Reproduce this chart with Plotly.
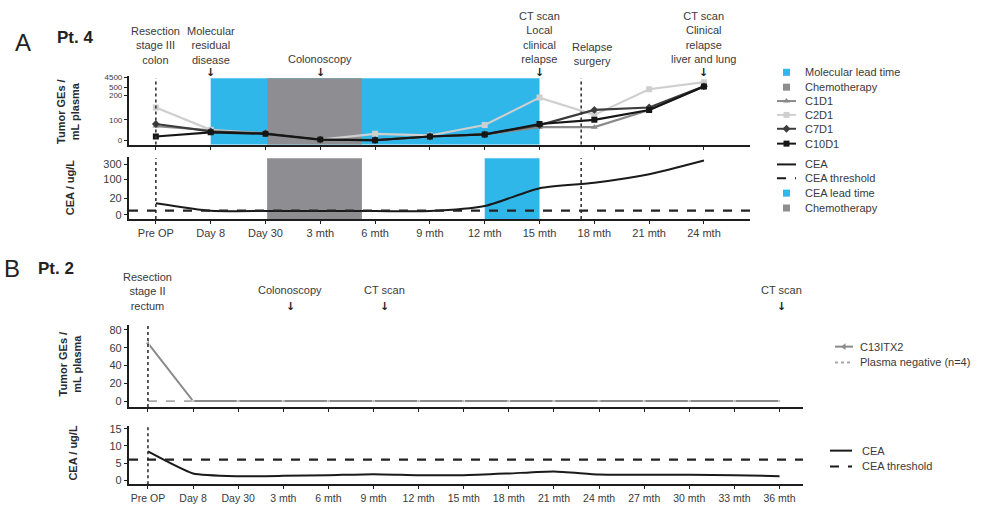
import numpy as np
import plotly.graph_objects as go

W, H = 1000, 517
FONT = "Liberation Sans, Arial, sans-serif"
TXT = "#3a3a3a"
BLUE = "#2fb7ea"
GREY = "#8e8e92"

# ---------------- Pt. 4 ----------------
visits_a = ["Pre OP", "Day 8", "Day 30", "3 mth", "6 mth", "9 mth",
            "12 mth", "15 mth", "18 mth", "21 mth", "24 mth"]
c1d1 = [70, 50, 35, 5, 3, 20, 30, 65, 65, 140, 780]
c2d1 = [150, 52, 35, 5, 33, 25, 75, 190, 120, 410, 2500]
c7d1 = [80, 45, 35, 5, 3, 20, 30, 75, 140, 150, 850]
c10d1 = [20, 40, 33, 5, 2, 20, 30, 80, 100, 140, 800]
cea_a = [14, 5, 4.6, 4.6, 4.6, 4.6, 10.5, 62, 85, 167, 430]
cea_threshold_a = 5

# shaded periods (visit index units)
mol_lead = (1, 7)
chemo_a = (2.03, 3.76)
cea_lead = (6, 7)
relapse_surgery = 7.76

# ---------------- Pt. 2 ----------------
visits_b = ["Pre OP", "Day 8", "Day 30", "3 mth", "6 mth", "9 mth", "12 mth",
            "15 mth", "18 mth", "21 mth", "24 mth", "27 mth", "30 mth",
            "33 mth", "36 mth"]
c13itx2 = [65, 0, 0, 0, 0, 0, 0, 0, 0, 0, 0, 0, 0, 0, 0]
plasma_negative = [0] * 15
cea_b = [8.4, 2.0, 1.2, 1.3, 1.5, 1.8, 1.5, 1.5, 2.0, 2.6, 1.7, 1.6, 1.6, 1.5, 1.2]
cea_threshold_b = 6

# broken (piecewise) value axes
ge_breaks = [0, 100, 200, 300, 500, 4500]
ge_pos = [0, 1, 2.19, 2.35, 2.57, 3.05]
ge_ticks = [0, 100, 200, 500, 4500]
cea_breaks = [0, 20, 100, 300, 600]
cea_pos = [0, 17, 36, 51, 60]
cea_ticks = [0, 20, 100, 300]


def ge_scale(v):
    return list(np.interp(v, ge_breaks, ge_pos))


def cea_scale(v):
    return list(np.interp(v, cea_breaks, cea_pos))


def dx(a, b):
    return [a / W, b / W]


def dy(top, bottom):
    return [1 - bottom / H, 1 - top / H]


fig = go.Figure()

xa = list(range(len(visits_a)))
xb = list(range(len(visits_b)))

series_a = [
    ("C1D1", c1d1, "#8a8a8a", "triangle-up"),
    ("C2D1", c2d1, "#cfcfcf", "square"),
    ("C7D1", c7d1, "#3c3c3c", "diamond"),
    ("C10D1", c10d1, "#161616", "square"),
]
for name, vals, col, sym in series_a:
    fig.add_trace(go.Scatter(
        x=xa, y=ge_scale(vals), mode="lines+markers", name=name,
        line=dict(color=col, width=2.2),
        marker=dict(color=col, size=6, symbol=sym),
        xaxis="x", yaxis="y", showlegend=False))

fig.add_trace(go.Scatter(
    x=xa, y=cea_scale(cea_a), mode="lines", name="CEA",
    line=dict(color="#1a1a1a", width=2, shape="spline", smoothing=0.6),
    xaxis="x2", yaxis="y2", showlegend=False))

fig.add_trace(go.Scatter(
    x=xb, y=plasma_negative, mode="lines", name="Plasma negative (n=4)",
    line=dict(color="#a8a8a8", width=1.8, dash="dash"),
    xaxis="x3", yaxis="y3", showlegend=False))
fig.add_trace(go.Scatter(
    x=xb, y=c13itx2, mode="lines+markers", name="C13ITX2",
    line=dict(color="#8a8a8a", width=2),
    marker=dict(color="#8a8a8a", size=[6] + [3] * 14, symbol="triangle-left"),
    xaxis="x3", yaxis="y3", showlegend=False))

fig.add_trace(go.Scatter(
    x=xb, y=cea_b, mode="lines", name="CEA",
    line=dict(color="#1a1a1a", width=2, shape="spline", smoothing=0.5),
    xaxis="x4", yaxis="y4", showlegend=False))

shapes = []


def rect(xref, yref, x0, x1, color):
    shapes.append(dict(type="rect", xref=xref, yref=yref + " domain",
                       x0=x0, x1=x1, y0=0, y1=0.97, fillcolor=color,
                       line=dict(width=0), layer="below"))


rect("x", "y", mol_lead[0], mol_lead[1], BLUE)
rect("x", "y", chemo_a[0], chemo_a[1], GREY)
rect("x2", "y2", chemo_a[0], chemo_a[1], GREY)
rect("x2", "y2", cea_lead[0], cea_lead[1], BLUE)


def vdot(xref, yref, x, y1=0.97):
    shapes.append(dict(type="line", xref=xref, yref=yref + " domain",
                       x0=x, x1=x, y0=0, y1=y1,
                       line=dict(color="#333", width=1.6, dash="dot")))


vdot("x", "y", 0)
vdot("x2", "y2", 0)
vdot("x", "y", relapse_surgery)
vdot("x2", "y2", relapse_surgery)
vdot("x3", "y3", 0, 1)
vdot("x4", "y4", 0, 0.98)


def hdash(xref, yref, yv):
    shapes.append(dict(type="line", xref=xref + " domain", yref=yref,
                       x0=0, x1=1, y0=yv, y1=yv,
                       line=dict(color="#222", width=2.2, dash="dash")))


hdash("x2", "y2", cea_scale([cea_threshold_a])[0])
hdash("x4", "y4", cea_threshold_b)

# ---- hand-drawn legends (pixel overlay axis) ----
LX0, LX1, LT = 777, 796, 803


def leg_text(text, x, y):
    return dict(text=text, x=x, y=y, xref="x5", yref="y5", xanchor="left",
                yanchor="middle", showarrow=False,
                font=dict(family=FONT, size=11, color=TXT))


annotations = []


def leg_square(y, color, label):
    fig.add_trace(go.Scatter(x=[(LX0 + LX1) / 2], y=[y], mode="markers",
                             marker=dict(symbol="square", size=7, color=color),
                             xaxis="x5", yaxis="y5", showlegend=False,
                             hoverinfo="skip"))
    annotations.append(leg_text(label, LT, y))


def leg_line(y, color, label, dash="solid", sym=None, x0=LX0, x1=LX1, xt=LT, width=2):
    fig.add_trace(go.Scatter(x=[x0, x1], y=[y, y], mode="lines",
                             line=dict(color=color, width=width, dash=dash),
                             xaxis="x5", yaxis="y5", showlegend=False,
                             hoverinfo="skip"))
    if sym:
        fig.add_trace(go.Scatter(x=[(x0 + x1) / 2], y=[y], mode="markers",
                                 marker=dict(symbol=sym, size=6, color=color),
                                 xaxis="x5", yaxis="y5", showlegend=False,
                                 hoverinfo="skip"))
    annotations.append(leg_text(label, xt, y))


leg_square(70, BLUE, "Molecular lead time")
leg_square(85, GREY, "Chemotherapy")
for (name, vals, col, sym), yrow in zip(series_a, [99, 113, 127, 142]):
    leg_line(yrow, col, name, sym=sym)
leg_line(163, "#1a1a1a", "CEA")
leg_line(177, "#1a1a1a", "CEA threshold", dash="dash")
leg_square(192, BLUE, "CEA lead time")
leg_square(207, GREY, "Chemotherapy")

leg_line(347, "#8a8a8a", "C13ITX2", sym="triangle-left", x0=835, x1=853, xt=858)
leg_line(363, "#a8a8a8", "Plasma negative (n=4)", dash="dot", x0=835, x1=853, xt=858)
leg_line(452, "#1a1a1a", "CEA", x0=830, x1=852, xt=860)
leg_line(468, "#1a1a1a", "CEA threshold", dash="dash", x0=830, x1=852, xt=860)


# ---- text ----
def ptext(text, x, y, size=11, color=TXT, bold=False, angle=0, xanchor="center"):
    t = f"<b>{text}</b>" if bold else text
    annotations.append(dict(text=t, x=x / W, y=1 - y / H, xref="paper",
                            yref="paper", showarrow=False, textangle=angle,
                            xanchor=xanchor, yanchor="middle",
                            font=dict(family=FONT, size=size, color=color)))


def event(text, xv, xref, y_center):
    annotations.append(dict(text=text, x=xv, y=1 - y_center / H, xref=xref,
                            yref="paper", showarrow=False, xanchor="center",
                            yanchor="middle",
                            font=dict(family=FONT, size=11, color=TXT)))


def arrow(xv, xref, y):
    annotations.append(dict(text="<b>↓</b>", x=xv, y=1 - y / H, xref=xref,
                            yref="paper", showarrow=False, xanchor="center",
                            yanchor="middle",
                            font=dict(family="DejaVu Sans", size=11, color="#222")))


ptext("A", 23, 40, size=24, color="#222")
ptext("Pt. 4", 75, 35, size=17, color="#222", bold=True)
ptext("B", 12, 268, size=24, color="#222")
ptext("Pt. 2", 56, 268, size=17, color="#222", bold=True)

event("Resection<br>stage III<br>colon", 0, "x", 43)
event("Molecular<br>residual<br>disease", 1, "x", 43)
arrow(1, "x", 70)
event("Colonoscopy", 3, "x", 57)
arrow(3, "x", 70)
event("CT scan<br>Local<br>clinical<br>relapse", 7, "x", 35)
arrow(7, "x", 70)
event("Relapse<br>surgery", 7.95, "x", 51)
event("CT scan<br>Clinical<br>relapse<br>liver and lung", 10, "x", 35)
arrow(10, "x", 70)

event("Resection<br>stage II<br>rectum", 0, "x3", 291)
event("Colonoscopy", 3.15, "x3", 290)
arrow(3.15, "x3", 306)
event("CT scan", 5.25, "x3", 290)
arrow(5.25, "x3", 306)
event("CT scan", 14.05, "x3", 290)
arrow(14.05, "x3", 306)

ptext("Tumor GEs /<br>mL plasma", 68, 110, size=11, color="#2a2a2a", bold=True, angle=-90)
ptext("CEA / ug/L", 70, 187, size=11, color="#2a2a2a", bold=True, angle=-90)
ptext("Tumor GEs /<br>mL plasma", 70, 365, size=11, color="#2a2a2a", bold=True, angle=-90)
ptext("CEA / ug/L", 73, 455, size=11, color="#2a2a2a", bold=True, angle=-90)

tickfont = dict(family=FONT, size=11, color=TXT)
axcommon = dict(showline=True, linecolor="#1e1e1e", linewidth=2.2,
                showgrid=False, zeroline=False, ticks="outside", ticklen=3,
                tickcolor="#1e1e1e", tickwidth=1.2, tickfont=tickfont,
                fixedrange=True)

fig.update_layout(
    width=W, height=H, margin=dict(l=0, r=0, t=0, b=0),
    paper_bgcolor="white", plot_bgcolor="rgba(0,0,0,0)",
    showlegend=False, shapes=shapes, annotations=annotations,
    xaxis=dict(domain=dx(129, 750), range=[-0.49, 10.84], anchor="y",
               tickvals=xa, showticklabels=False, **axcommon),
    yaxis=dict(domain=dy(74, 143), range=[-0.19, 3.095], anchor="x",
               tickvals=ge_scale(ge_ticks), ticktext=[str(t) for t in ge_ticks],
               **{**axcommon, "tickfont": dict(family=FONT, size=8, color=TXT)}),
    xaxis2=dict(domain=dx(129, 750), range=[-0.49, 10.84], anchor="y2",
                tickvals=xa, ticktext=visits_a, tickangle=0, **axcommon),
    yaxis2=dict(domain=dy(155, 218), range=[-4, 59], anchor="x2",
                tickvals=cea_scale(cea_ticks), ticktext=[str(t) for t in cea_ticks],
                **axcommon),
    xaxis3=dict(domain=dx(129, 803), range=[-0.42, 14.52], anchor="y3",
                tickvals=xb, showticklabels=False, **axcommon),
    yaxis3=dict(domain=dy(325, 408), range=[-6.67, 85.6], anchor="x3",
                tickvals=[0, 20, 40, 60, 80], **axcommon),
    xaxis4=dict(domain=dx(129, 803), range=[-0.42, 14.52], anchor="y4",
                tickvals=xb, ticktext=visits_b, tickangle=0,
                **{**axcommon, "tickfont": dict(family=FONT, size=10.5, color=TXT)}),
    yaxis4=dict(domain=dy(427, 486), range=[-1.153, 15.85], anchor="x4",
                tickvals=[0, 5, 10, 15], **axcommon),
    xaxis5=dict(domain=[0, 1], range=[0, W], visible=False, fixedrange=True,
                anchor="y5"),
    yaxis5=dict(domain=[0, 1], range=[H, 0], visible=False, fixedrange=True,
                anchor="x5"),
)

fig.write_html("out.html")
